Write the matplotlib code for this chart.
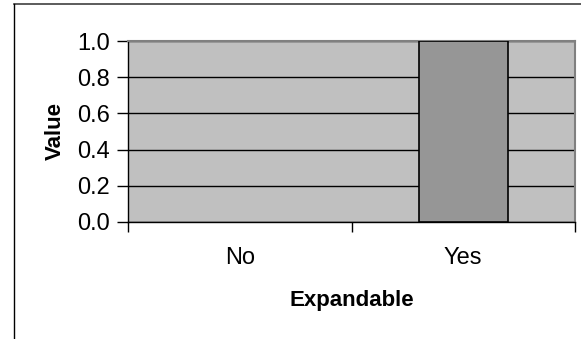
import numpy as np
import matplotlib.pyplot as plt
from matplotlib.lines import Line2D

# data
categories = ['No', 'Yes']
values = [0.0, 1.0]
y_ticks = [0.0, 0.2, 0.4, 0.6, 0.8, 1.0]

W, H = 581, 339
fig = plt.figure(figsize=(W / 100.0, H / 100.0), dpi=100)
plt.rcParams['font.family'] = ['Liberation Sans', 'DejaVu Sans']

# outer chart border (cut off by the image on the right and bottom)
fig.add_artist(Line2D([13.5 / W, 1.0], [1 - 3.5 / H, 1 - 3.5 / H],
                      transform=fig.transFigure, color='#404040', lw=1.2))
fig.add_artist(Line2D([13.5 / W, 13.5 / W], [0.0, 1 - 3.5 / H],
                      transform=fig.transFigure, color='black', lw=1.0))

left, right, top, bottom = 128, 575, 41, 222
ax = fig.add_axes([left / W, 1 - bottom / H, (right - left) / W, (bottom - top) / H])
ax.set_facecolor('#C0C0C0')

x = np.arange(len(categories))
edges = ['black' if v > 0 else 'none' for v in values]
ax.bar(x, values, width=0.4, color='#969696', edgecolor=edges, linewidth=1.2, zorder=3)

ax.set_xlim(-0.5, len(categories) - 0.5)
ax.set_ylim(0, 1.0)

# gridlines
ax.set_yticks(y_ticks)
ax.set_yticklabels(['%.1f' % v for v in y_ticks])
ax.yaxis.grid(True, color='black', lw=1.0, zorder=1)
ax.set_axisbelow(True)

# category boundary ticks, labels centred
ax.set_xticks(np.arange(len(categories) + 1) - 0.5)
ax.set_xticklabels([])
ax.set_xticks(x, minor=True)
ax.set_xticklabels(categories, minor=True)
ax.tick_params(axis='x', which='minor', length=0, pad=18, labelsize=17)
ax.tick_params(axis='x', which='major', length=7, width=1, direction='out')
ax.tick_params(axis='y', length=8, width=1, direction='out', pad=5, labelsize=17)

for s in ['left', 'bottom']:
    ax.spines[s].set_color('black')
    ax.spines[s].set_linewidth(1.0)
for s in ['top', 'right']:
    ax.spines[s].set_color('#808080')
    ax.spines[s].set_linewidth(1.5)

ax.set_ylabel('Value', fontsize=16, fontweight='bold')
ax.set_xlabel('Expandable', fontsize=16, fontweight='bold')
ax.yaxis.set_label_coords(-0.138, 0.5)
ax.xaxis.set_label_coords(0.5, -0.376)

fig.savefig('out.png', dpi=100)
